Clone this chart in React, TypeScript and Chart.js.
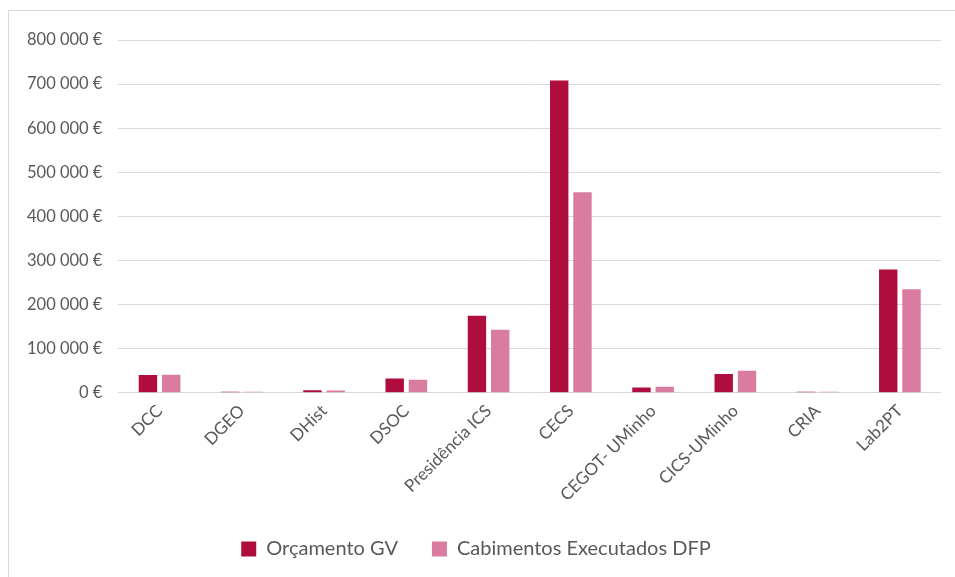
import React, { useEffect, useRef } from "react";
import { Chart, registerables } from "chart.js";

Chart.register(...registerables);

const categories = [
  "DCC",
  "DGEO",
  "DHist",
  "DSOC",
  "Presidência ICS",
  "CECS",
  "CEGOT- UMinho",
  "CICS-UMinho",
  "CRIA",
  "Lab2PT",
];
const orcamentoGV = [40500, 2500, 6000, 32500, 174500, 708000, 12300, 42500, 2300, 279500];
const cabimentosDFP = [41000, 2300, 5500, 29500, 143000, 455000, 13600, 50000, 2200, 235000];
const seriesNames = ["Orçamento GV", "Cabimentos Executados DFP"];
const yMax = 800000;
const yStep = 100000;

const fmt = (v: number) =>
  String(Math.round(v)).replace(/\B(?=(\d{3})+(?!\d))/g, " ") + " €";

export default function App() {
  const ref = useRef<HTMLCanvasElement | null>(null);
  useEffect(() => {
    if (!ref.current) return;
    const font = "Lato, 'Open Sans', sans-serif";
    const chart = new Chart(ref.current, {
      type: "bar",
      data: {
        labels: categories,
        datasets: [
          {
            label: seriesNames[0],
            data: orcamentoGV,
            backgroundColor: "#AF0D3D",
            borderWidth: 0,
            categoryPercentage: 0.566,
            barPercentage: 0.79,
          },
          {
            label: seriesNames[1],
            data: cabimentosDFP,
            backgroundColor: "#D97CA0",
            borderWidth: 0,
            categoryPercentage: 0.566,
            barPercentage: 0.79,
          },
        ],
      },
      options: {
        animation: false,
        responsive: false,
        maintainAspectRatio: false,
        layout: { padding: { left: 2, right: 14, top: 29, bottom: 8 } },
        plugins: {
          tooltip: { enabled: false },
          legend: {
            position: "bottom",
            labels: {
              color: "#595959",
              font: { family: font, size: 20 },
              boxWidth: 15,
              boxHeight: 15,
              padding: 34,
            },
          },
        },
        scales: {
          x: {
            grid: { display: false },
            border: { display: false },
            ticks: {
              color: "#595959",
              font: { family: font, size: 17 },
              minRotation: 45,
              maxRotation: 45,
              autoSkip: false,
              padding: 0,
            },
          },
          y: {
            min: 0,
            max: yMax,
            grid: { color: "#d9d9d9", lineWidth: 1, drawTicks: false },
            border: { display: false },
            ticks: {
              stepSize: yStep,
              color: "#595959",
              font: { family: font, size: 16.5 },
              padding: 16,
              callback: (v: any) => fmt(Number(v)),
            },
          },
        },
      },
    });
    return () => chart.destroy();
  }, []);
  return (
    <div
      style={{
        position: "absolute",
        left: 8,
        top: 10,
        width: 960,
        height: 580,
        borderLeft: "1px solid #d9d9d9",
        borderTop: "1px solid #d9d9d9",
        background: "#fff",
      }}
    >
      <canvas ref={ref} width={946} height={566} style={{ display: "block" }} />
    </div>
  );
}
